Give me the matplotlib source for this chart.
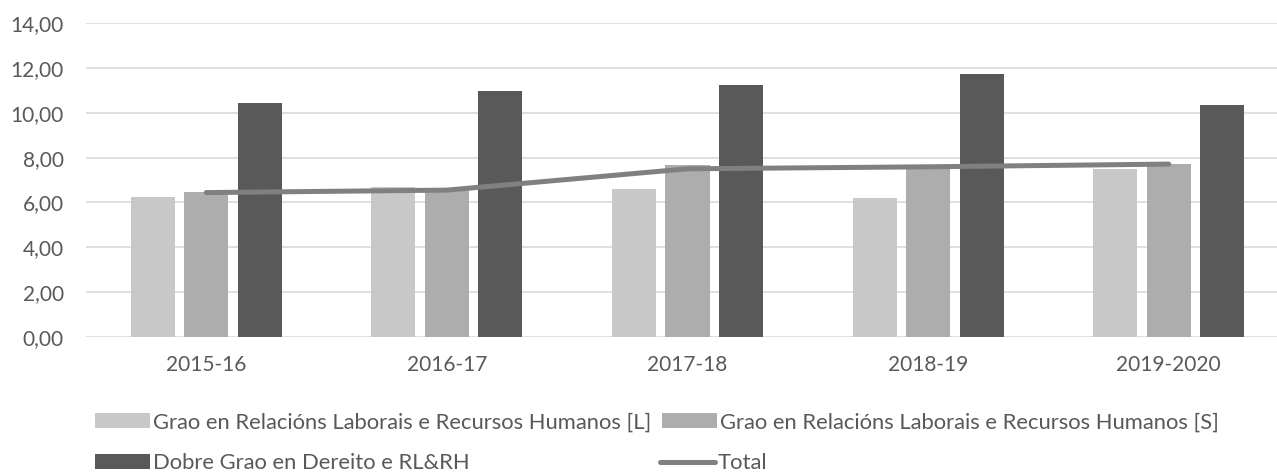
import matplotlib.pyplot as plt
import numpy as np

# cursos e valores
cursos = ['2015-16', '2016-17', '2017-18', '2018-19', '2019-2020']
grao_l = [6.25, 6.69, 6.62, 6.18, 7.51]
grao_s = [6.47, 6.62, 7.66, 7.69, 7.72]
dobre = [10.45, 10.96, 11.22, 11.71, 10.36]
total = [6.44, 6.55, 7.50, 7.59, 7.71]

series_names = ['Grao en Relacións Laborais e Recursos Humanos [L]',
                'Grao en Relacións Laborais e Recursos Humanos [S]',
                'Dobre Grao en Dereito e RL&RH',
                'Total']

plt.rcParams['font.family'] = ['Lato', 'DejaVu Sans']

fig = plt.figure(figsize=(12.77, 4.75), dpi=100)
ax = fig.add_axes([0.0673, 0.2905, 0.9327, 0.661])

x = np.arange(len(cursos))
w = 0.183
step = 0.222
b1 = ax.bar(x - step, grao_l, w, color='#c8c8c8', zorder=2)
b2 = ax.bar(x, grao_s, w, color='#adadad', zorder=2)
b3 = ax.bar(x + step, dobre, w, color='#595959', zorder=2)
ln, = ax.plot(x, total, color='#808080', lw=3.6, solid_capstyle='round', zorder=3)

ax.set_ylim(0, 14)
ax.set_xlim(-0.5, 4.45)
ax.set_yticks(np.arange(0, 15, 2))
ax.set_yticklabels([f'{v:.2f}'.replace('.', ',') for v in np.arange(0, 15, 2)])
ax.set_xticks(x)
ax.set_xticklabels(cursos)
ax.grid(axis='y', color='#d9d9d9', lw=1.2, zorder=0)
for s in ax.spines.values():
    s.set_visible(False)
ax.tick_params(length=0, labelsize=15, colors='#595959')
ax.tick_params(axis='y', pad=16)
ax.tick_params(axis='x', pad=13)

# lenda: cada entrada colocada á man, como en Excel
pos = [(0.0675, 0.111), (0.5116, 0.111), (0.0675, 0.025), (0.510, 0.025)]
handles = [b1, b2, b3, ln]
for h, name, p in zip(handles, series_names, pos):
    fig.legend([h], [name], loc='center left', bbox_to_anchor=p, frameon=False,
               fontsize=15.8, labelcolor='#595959', handlelength=2.5,
               handleheight=0.65, handletextpad=0.14, borderaxespad=0)

fig.savefig('out.png', dpi=100)
